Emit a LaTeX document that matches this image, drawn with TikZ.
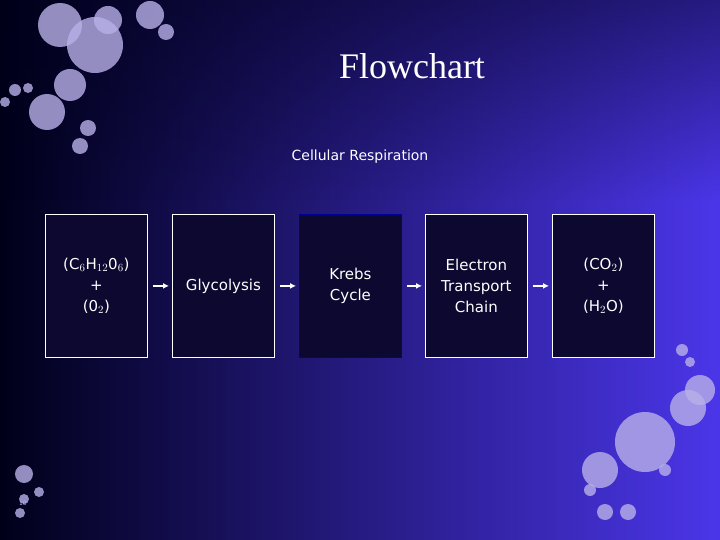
\documentclass[tikz,border=0pt]{standalone}
\usepackage{fontspec}
\usetikzlibrary{fadings,arrows.meta}
\setmainfont{Liberation Serif}
\newfontfamily\boxfont{DejaVu Sans}
\definecolor{boxfill}{HTML}{0C0830}
\definecolor{bubc}{HTML}{B8B0E8}
\begin{document}
\begin{tikzpicture}[x=1pt,y=-1pt,
  stepbox/.style={draw=white,line width=0.8pt,fill=boxfill,minimum width=102pt,minimum height=143pt,inner sep=0pt,text=white,font=\boxfont\fontsize{15}{21}\selectfont,align=center},
  arr/.style={-{Latex[length=6pt,width=6pt]},white,line width=2pt,shorten >=3pt,shorten <=5pt},
  bub/.style={fill=bubc,opacity=0.8}]
\useasboundingbox (0,0) rectangle (720,540);
\shade[left color=black!90!blue, right color=blue!65!violet!70!white!70!blue] (0,0) rectangle (720,540);
\fill[black!90!blue,path fading=south,opacity=0.5] (0,0) rectangle (720,200);
% bubbles
\foreach \x/\y/\r in {60/25/22,95/45/28,108/20/14,150/15/14,166/32/8,70/85/16,47/112/18,88/128/8,80/146/8,15/90/6,5/102/5,28/88/5,
 645/442/30,600/470/18,688/408/18,700/390/15,682/350/6,690/362/5,605/512/8,628/512/8,590/490/6,665/470/6,
 24/474/9,39/492/5,24/499/5,20/513/5}
  \fill[bub] (\x,\y) circle (\r);
\node[text=white,font=\fontsize{36}{40}\selectfont] (title) at (412,66) {Flowchart};
\node[text=white,font=\boxfont\fontsize{14}{16}\selectfont] (sub) at (360,157) {Cellular Respiration};
\node[stepbox,anchor=north west] (a) at (45,214) {(C$_6$H$_{12}$0$_6$)\\+\\(0$_2$)};
\node[stepbox,anchor=north west] (b) at (172,214) {Glycolysis};
\node[stepbox,anchor=north west,draw=blue!60!black] (c) at (299,214) {Krebs\\Cycle};
\node[stepbox,anchor=north west] (d) at (425,214) {Electron\\Transport\\Chain};
\node[stepbox,anchor=north west] (e) at (552,214) {(CO$_2$)\\+\\(H$_2$O)};
\draw[arr] (a) -- (b);
\draw[arr] (b) -- (c);
\draw[arr] (c) -- (d);
\draw[arr] (d) -- (e);
\node[text=white!70!blue,font=\boxfont\fontsize{6}{7}\selectfont] (pg) at (23,503) {10};
\end{tikzpicture}
\end{document}
